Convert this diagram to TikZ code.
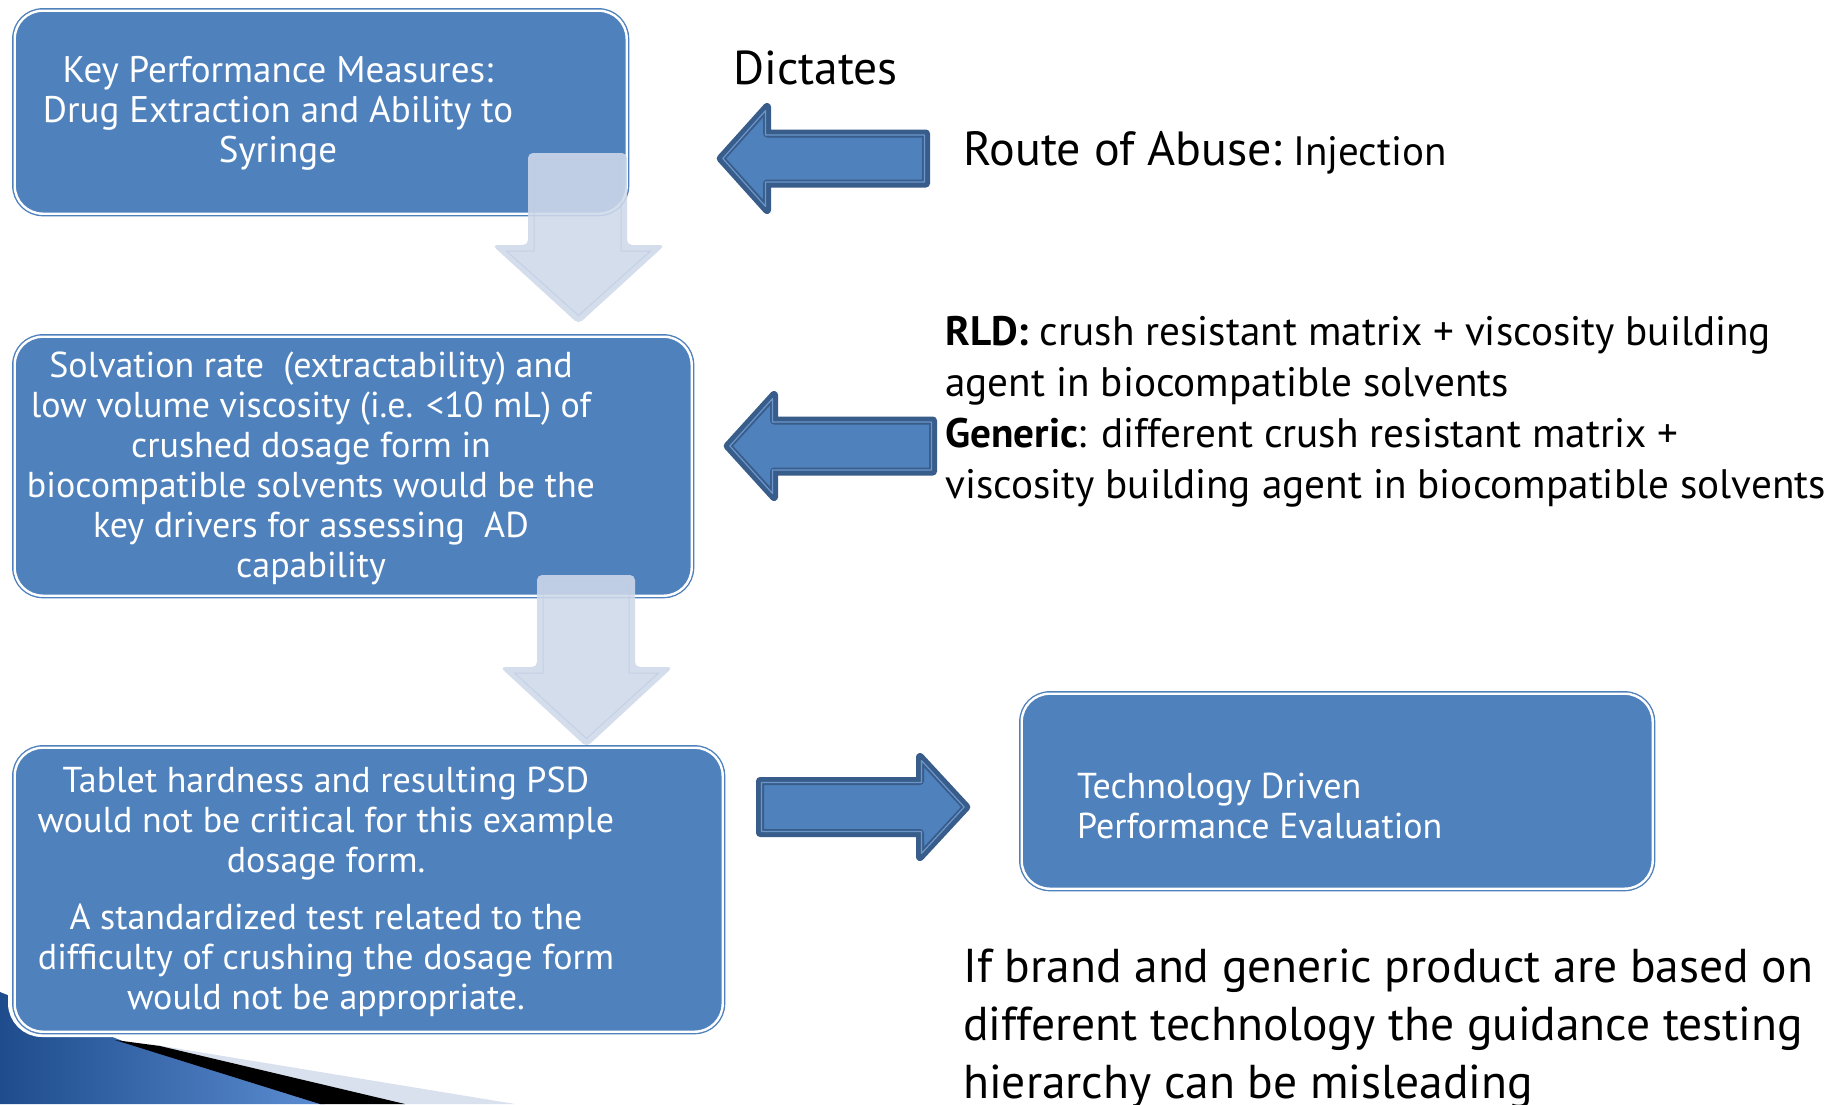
\documentclass[tikz,border=0pt]{standalone}
\usepackage{fontspec}
\setmainfont{PT Sans}
\definecolor{boxblue}{HTML}{4F81BD}
\definecolor{arrdark}{HTML}{385D8A}
\definecolor{arrlight}{HTML}{6C96CB}
\definecolor{pale}{HTML}{CFD9EA}
\definecolor{paleline}{HTML}{BFCBE2}
\definecolor{decodark}{HTML}{1E4C8C}
\definecolor{decolight}{HTML}{5C8DD2}
\definecolor{decoband}{HTML}{D9E1EF}
% left-pointing block arrow: tipx, y, head-back x, head half height, shaft half height, right x
\newcommand\blueL[6]{%
  \draw[arrdark, fill=boxblue, line width=8pt, line join=round]
    (#1,#2) -- (#3,#2-#4) -- (#3,#2-#5) -- (#6,#2-#5) -- (#6,#2+#5) -- (#3,#2+#5) -- (#3,#2+#4) -- cycle;
  \draw[arrlight, line width=1.2pt, line join=round]
    (#1+2.1,#2) -- (#3-1.5,#2-#4+3.6) -- (#3-1.5,#2-#5+1.5) -- (#6-1.5,#2-#5+1.5) -- (#6-1.5,#2+#5-1.5) -- (#3-1.5,#2+#5-1.5) -- (#3-1.5,#2+#4-3.6) -- cycle;}
% right-pointing block arrow: left x, y, head-back x, head half height, shaft half height, tip x
\newcommand\blueR[6]{%
  \draw[arrdark, fill=boxblue, line width=8pt, line join=round]
    (#1,#2-#5) -- (#3,#2-#5) -- (#3,#2-#4) -- (#6,#2) -- (#3,#2+#4) -- (#3,#2+#5) -- (#1,#2+#5) -- cycle;
  \draw[arrlight, line width=1.2pt, line join=round]
    (#1+1.5,#2-#5+1.5) -- (#3+1.5,#2-#5+1.5) -- (#3+1.5,#2-#4+3.6) -- (#6-2.1,#2) -- (#3+1.5,#2+#4-3.6) -- (#3+1.5,#2+#5-1.5) -- (#1+1.5,#2+#5-1.5) -- cycle;}
% pale down arrow: shaft left, shaft right, top, head y, head left, head right, tip y
\newcommand\paleD[7]{%
  \fill[pale, opacity=0.88, rounded corners=5pt]
    (#1,#3) -- (#2,#3) -- (#2,#4) -- (#6,#4) -- ({(#5+#6)/2},#7) -- (#5,#4) -- (#1,#4) -- cycle;
  \draw[paleline, opacity=0.7, line width=1pt]
    (#1+6,#3+6) -- (#2-6,#3+6) -- (#2-6,#4+6) -- (#6-14.5,#4+6) -- ({(#5+#6)/2},#7-8.5) -- (#5+14.5,#4+6) -- (#1+6,#4+6) -- cycle;}
\begin{document}
\begin{tikzpicture}[x=1pt,y=-1pt,
  bluebox/.style={draw=boxblue, fill=boxblue, line width=1.4pt, double=white,
    double distance=2.4pt, rounded corners=28pt, inner sep=0pt, anchor=north west},
  halo/.style={draw=white, line width=12pt, rounded corners=28pt},
  wtext/.style={text=white, font=\fontsize{36}{40}\selectfont, align=center, inner sep=0pt},
  btext/.style={text=black, inner sep=0pt, align=left}]
\useasboundingbox (0,0) rectangle (1845,1104);
\fill[white] (0,0) rectangle (1845,1104);

% bottom-left decoration
\shade[left color=decodark, right color=decolight] (0,992) -- (125,1042) -- (325,1104) -- (0,1104) -- cycle;
\fill[decoband] (150,1044) -- (515,1104) -- (400,1104) -- cycle;
\fill[black] (115,1040) -- (160,1046) -- (405,1104) -- (320,1104) -- cycle;
\draw[halo] (14,747) rectangle (722,1031);

% boxes
\node[bluebox, minimum width=612pt, minimum height=203pt] (b1) at (14,10) {};
\node[bluebox, minimum width=677pt, minimum height=259pt] (b2) at (14,336) {};
\node[bluebox, minimum width=708pt, minimum height=284pt] (b3) at (14,747) {};
\node[bluebox, minimum width=631pt, minimum height=195pt] (b4) at (1021,693) {};

% box texts
\node[wtext, font=\fontsize{37}{40}\selectfont] (t1) at (278,113) {Key Performance Measures:\\Drug Extraction and Ability to\\Syringe};
\node[wtext] (t2) at (311,468) {Solvation rate\ \ (extractability) and\\low volume viscosity (i.e. <10 mL) of\\crushed dosage form in\\biocompatible solvents would be the\\key drivers for assessing\ \ AD\\capability};
\node[wtext] (t3) at (326,892) {Tablet hardness and resulting PSD\\would not be critical for this example\\dosage form.\\[17pt]A standardized test related to the\\difficulty of crushing the dosage form\\would not be appropriate.};
\node[wtext, align=left, anchor=west] (t4) at (1077,806) {Technology Driven\\Performance Evaluation};

% pale down arrows
\paleD{528}{627}{153}{245}{492}{665}{324}
\paleD{537}{635}{575}{667}{500}{673}{747}

% blue block arrows
\blueL{720.7}{158.5}{767}{51.5}{25}{926}
\blueL{727.7}{446}{774}{51}{25.5}{933}
\blueR{760}{807}{920}{50}{26}{966.3}

% side texts
\node[btext, anchor=base west, font=\fontsize{47.5}{52}\selectfont] (dict) at (733,84) {Dictates};
\node[btext, anchor=base west] (route) at (963,165) {{\fontsize{48}{52}\selectfont Route of Abuse:}\hspace{11pt}{\fontsize{41}{46}\selectfont Injection}};
\node[btext, anchor=west, font=\fontsize{41.2}{51}\selectfont] (rld) at (945,412) {\textbf{RLD:} crush resistant matrix + viscosity building\\agent in biocompatible solvents\\\textbf{Generic}: different crush resistant matrix +\\viscosity building agent in biocompatible solvents};
\node[btext, anchor=west, font=\fontsize{47.5}{58}\selectfont] (note) at (963,1029) {If brand and generic product are based on\\different technology the guidance testing\\hierarchy can be misleading};
\end{tikzpicture}
\end{document}
